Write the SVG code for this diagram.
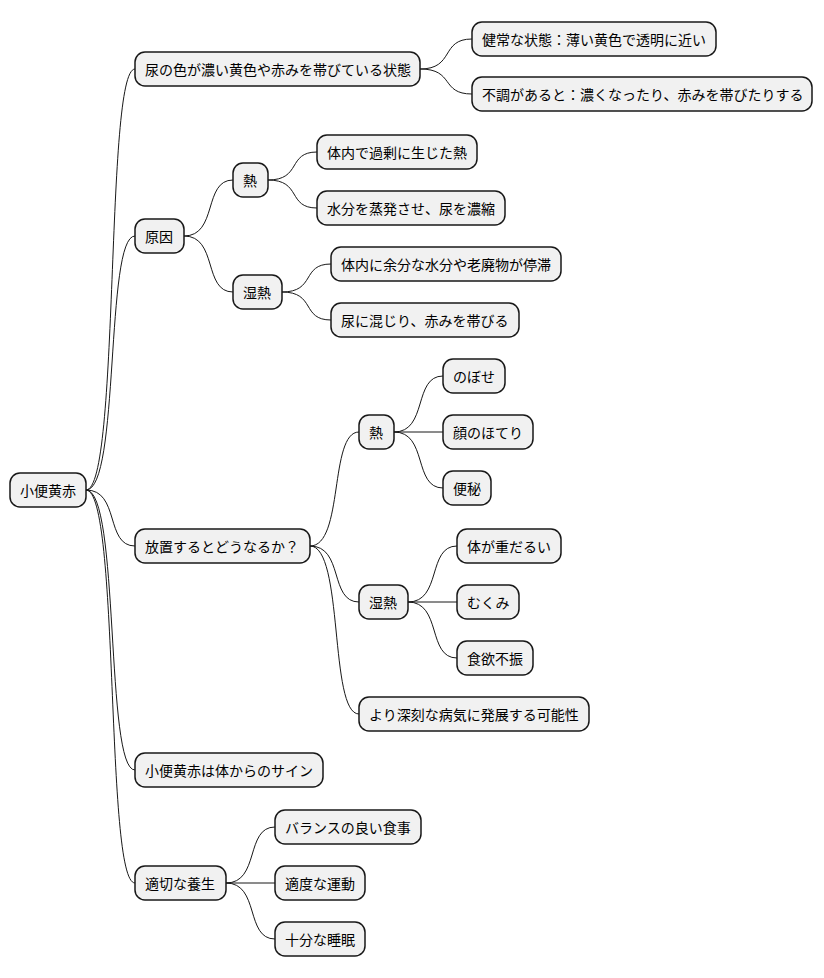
<svg xmlns="http://www.w3.org/2000/svg" width="824" height="978" viewBox="0 0 824 978">
<style>
.n rect{fill:#F1F1F1;stroke:#181818;stroke-width:1.5}
.n text{font-family:"Noto Sans CJK JP","Noto Sans",sans-serif;font-size:14px;fill:#000;dominant-baseline:central}
.c path{fill:none;stroke:#181818;stroke-width:1}
</style>
<rect width="824" height="978" fill="#fff"/>
<g class="c">
<path d="M86,490 C120,490 105,69 135,69"/>
<path d="M86,490 C120,490 105,236 135,236"/>
<path d="M86,490 C120,490 105,546 135,546"/>
<path d="M86,490 C120,490 105,770 135,770"/>
<path d="M86,490 C120,490 105,883 135,883"/>
<path d="M420,69 C455,69 440,39 472,39"/>
<path d="M420,69 C455,69 440,94 472,94"/>
<path d="M184,236 C218,236 203,180 233,180"/>
<path d="M184,236 C218,236 203,292 233,292"/>
<path d="M268,180 C302,180 287,152 317,152"/>
<path d="M268,180 C302,180 287,208 317,208"/>
<path d="M282,292 C316,292 301,264 331,264"/>
<path d="M282,292 C316,292 301,320 331,320"/>
<path d="M310,546 C344,546 329,432 359,432"/>
<path d="M310,546 C344,546 329,602 359,602"/>
<path d="M310,546 C344,546 329,714 359,714"/>
<path d="M394,432 C428,432 413,376 443,376"/>
<path d="M394,432 L443,432"/>
<path d="M394,432 C428,432 413,488 443,488"/>
<path d="M408,602 C442,602 427,546 457,546"/>
<path d="M408,602 L457,602"/>
<path d="M408,602 C442,602 427,658 457,658"/>
<path d="M226,883 C260,883 245,827 275,827"/>
<path d="M226,883 L275,883"/>
<path d="M226,883 C260,883 245,939 275,939"/>
</g>
<g id="root" class="n"><rect x="10" y="473" width="76" height="34" rx="10"/><text x="20" y="490">小便黄赤</text></g>
<g id="a" class="n"><rect x="135" y="52" width="285" height="34" rx="10"/><text x="145" y="69">尿の色が濃い黄色や赤みを帯びている状態</text></g>
<g id="a1" class="n"><rect x="472" y="22" width="244" height="34" rx="10"/><text x="482" y="39">健常な状態：薄い黄色で透明に近い</text></g>
<g id="a2" class="n"><rect x="472" y="77" width="340" height="34" rx="10"/><text x="482" y="94">不調があると：濃くなったり、赤みを帯びたりする</text></g>
<g id="b" class="n"><rect x="135" y="219" width="49" height="34" rx="10"/><text x="145" y="236">原因</text></g>
<g id="b1" class="n"><rect x="233" y="163" width="35" height="34" rx="10"/><text x="243" y="180">熱</text></g>
<g id="b11" class="n"><rect x="317" y="135" width="160" height="34" rx="10"/><text x="327" y="152">体内で過剰に生じた熱</text></g>
<g id="b12" class="n"><rect x="317" y="191" width="188" height="34" rx="10"/><text x="327" y="208">水分を蒸発させ、尿を濃縮</text></g>
<g id="b2" class="n"><rect x="233" y="275" width="49" height="34" rx="10"/><text x="243" y="292">湿熱</text></g>
<g id="b21" class="n"><rect x="331" y="247" width="230" height="34" rx="10"/><text x="341" y="264">体内に余分な水分や老廃物が停滞</text></g>
<g id="b22" class="n"><rect x="331" y="303" width="188" height="34" rx="10"/><text x="341" y="320">尿に混じり、赤みを帯びる</text></g>
<g id="c" class="n"><rect x="135" y="529" width="175" height="34" rx="10"/><text x="145" y="546">放置するとどうなるか？</text></g>
<g id="c1" class="n"><rect x="359" y="415" width="35" height="34" rx="10"/><text x="369" y="432">熱</text></g>
<g id="c11" class="n"><rect x="443" y="359" width="62" height="34" rx="10"/><text x="453" y="376">のぼせ</text></g>
<g id="c12" class="n"><rect x="443" y="415" width="90" height="34" rx="10"/><text x="453" y="432">顔のほてり</text></g>
<g id="c13" class="n"><rect x="443" y="471" width="48" height="34" rx="10"/><text x="453" y="488">便秘</text></g>
<g id="c2" class="n"><rect x="359" y="585" width="49" height="34" rx="10"/><text x="369" y="602">湿熱</text></g>
<g id="c21" class="n"><rect x="457" y="529" width="104" height="34" rx="10"/><text x="467" y="546">体が重だるい</text></g>
<g id="c22" class="n"><rect x="457" y="585" width="62" height="34" rx="10"/><text x="467" y="602">むくみ</text></g>
<g id="c23" class="n"><rect x="457" y="641" width="76" height="34" rx="10"/><text x="467" y="658">食欲不振</text></g>
<g id="c3" class="n"><rect x="359" y="697" width="230" height="34" rx="10"/><text x="369" y="714">より深刻な病気に発展する可能性</text></g>
<g id="d" class="n"><rect x="135" y="753" width="188" height="34" rx="10"/><text x="145" y="770">小便黄赤は体からのサイン</text></g>
<g id="e" class="n"><rect x="135" y="866" width="91" height="34" rx="10"/><text x="145" y="883">適切な養生</text></g>
<g id="e1" class="n"><rect x="275" y="810" width="146" height="34" rx="10"/><text x="285" y="827">バランスの良い食事</text></g>
<g id="e2" class="n"><rect x="275" y="866" width="90" height="34" rx="10"/><text x="285" y="883">適度な運動</text></g>
<g id="e3" class="n"><rect x="275" y="922" width="90" height="34" rx="10"/><text x="285" y="939">十分な睡眠</text></g>
</svg>
